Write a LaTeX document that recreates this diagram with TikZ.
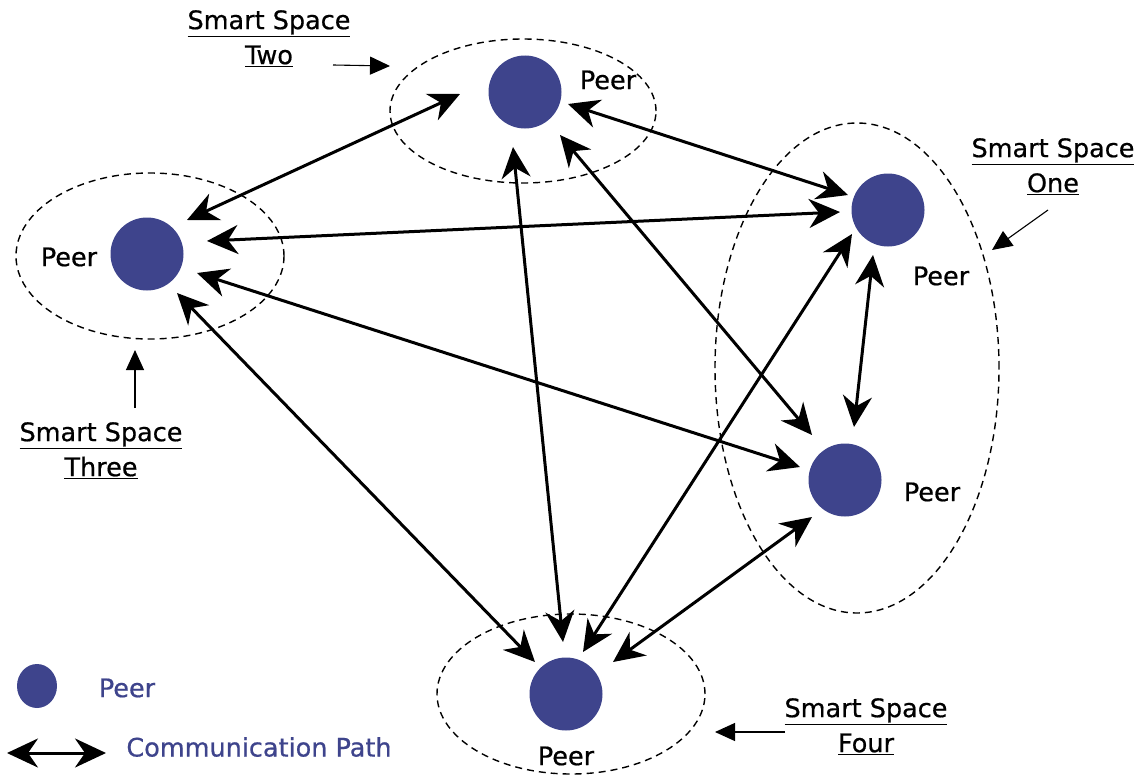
\documentclass[tikz,border=0pt]{standalone}
\usepackage{fontspec}
\setmainfont{DejaVu Sans}[FakeBold=0.6]
\usetikzlibrary{arrows.meta,calc,shapes.geometric}

\definecolor{peerblue}{RGB}{62,68,140}

\tikzset{
  peer/.style={circle, fill=peerblue, draw=none, minimum size=73pt, inner sep=0pt},
  peerlabel/.style={inner sep=0pt, font=\fontsize{25.5}{35}\selectfont},
  spacelabel/.style={inner sep=0pt, anchor=north, align=center, font=\fontsize{25.5}{35}\selectfont},
  space/.style={line width=1.4pt, dash pattern=on 7pt off 5pt},
  link/.style={line width=3pt,
    {Stealth[length=31pt,width=29pt,inset=10pt]}-{Stealth[length=31pt,width=29pt,inset=10pt]}},
  pointer/.style={line width=1.1pt, -{Triangle[length=20pt,width=18pt]}},
}

\begin{document}
\begin{tikzpicture}[x=1pt,y=-1pt]
\useasboundingbox (0,0) rectangle (1142,776);

% smart space boundaries
\draw[space] (523,111) ellipse [x radius=133pt, y radius=72pt];
\draw[space] (150,256) ellipse [x radius=134pt, y radius=83pt];
\draw[space] (857,368) ellipse [x radius=142pt, y radius=245pt];
\draw[space] (571,694) ellipse [x radius=134pt, y radius=80pt];

% peers
\node[peer] (p2)  at (525,92)  {};
\node[peer] (p3)  at (147,254) {};
\node[peer] (p1a) at (888,210) {};
\node[peer] (p1b) at (845,480) {};
\node[peer] (p4)  at (566,694) {};

\node[peerlabel] (t2)  at (608,80)  {Peer};
\node[peerlabel] (t3)  at (69,257)  {Peer};
\node[peerlabel] (t1a) at (941,276) {Peer};
\node[peerlabel] (t1b) at (932,492) {Peer};
\node[peerlabel] (t4)  at (566,756) {Peer};

% communication paths
\draw[link] ($(p3)+(40,-34)$)  -- ($(p2)+(-65,2)$);
\draw[link] ($(p3)+(60,-13)$)  -- ($(p1a)+(-48,2)$);
\draw[link] ($(p3)+(50,19)$)   -- ($(p1b)+(-45,-13)$);
\draw[link] ($(p3)+(30,39)$)   -- ($(p4)+(-31,-32)$);
\draw[link] ($(p2)+(43,12)$)   -- ($(p1a)+(-40,-15)$);
\draw[link] ($(p2)+(35,43)$)   -- ($(p1b)+(-33,-45)$);
\draw[link] ($(p2)+(-12,55)$)  -- ($(p4)+(-3,-52)$);
\draw[link] ($(p4)+(17,-42)$)  -- ($(p1a)+(-36,24)$);
\draw[link] ($(p4)+(47,-32)$)  -- ($(p1b)+(-33,37)$);
\draw[link] ($(p1a)+(-15,45)$) -- ($(p1b)+(9,-53)$);

% smart space names
\node[spacelabel] (l2) at (269,10)   {\underline{Smart Space}\\\underline{Two}};
\node[spacelabel] (l1) at (1053,138) {\underline{Smart Space}\\\underline{One}};
\node[spacelabel] (l3) at (101,422)  {\underline{Smart Space}\\\underline{Three}};
\node[spacelabel] (l4) at (866,698)  {\underline{Smart Space}\\\underline{Four}};

\coordinate (a2s) at (333,65);   \coordinate (a2e) at (390,66);
\coordinate (a1s) at (1048,210); \coordinate (a1e) at (992,250);
\coordinate (a3s) at (135,408);  \coordinate (a3e) at (135,350);
\coordinate (a4s) at (785,732);  \coordinate (a4e) at (715,732);
\draw[pointer] (a2s) -- (a2e);
\draw[pointer] (a1s) -- (a1e);
\draw[pointer] (a3s) -- (a3e);
\draw[pointer] (a4s) -- (a4e);

% legend
\node[ellipse, fill=peerblue, minimum width=40pt, minimum height=44pt, inner sep=0pt] (kp) at (37,686) {};
\node[peerlabel, text=peerblue] (kpt) at (127,688) {Peer};
\coordinate (kas) at (7,753);
\coordinate (kae) at (106,753);
\draw[link] (kas) -- (kae);
\node[peerlabel, text=peerblue] (kat) at (259,747) {Communication Path};
\end{tikzpicture}
\end{document}
